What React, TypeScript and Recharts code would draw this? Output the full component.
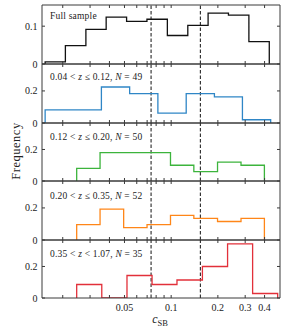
import React from 'react';
import { LineChart, Line, XAxis, YAxis, ReferenceLine } from 'recharts';

// bin edges (c_SB) and normalised counts for each redshift slice
const fullEdges = [0.0154, 0.0208, 0.0282, 0.0381, 0.0516, 0.0698, 0.0945, 0.128, 0.173, 0.234, 0.317, 0.429];
const fullFreq = [0.0054, 0.0484, 0.0914, 0.1237, 0.1129, 0.1183, 0.0753, 0.1022, 0.1344, 0.129, 0.0591];

const z1Edges = [0.0154, 0.0234, 0.0355, 0.054, 0.0821, 0.125, 0.19, 0.288, 0.438];
const z1Freq = [0.0816, 0.0816, 0.2245, 0.1837, 0.0612, 0.1837, 0.1633, 0.0204];

const z2Edges = [0.0246, 0.0348, 0.0494, 0.0699, 0.099, 0.14, 0.199, 0.282, 0.399];
const z2Freq = [0.08, 0.18, 0.18, 0.18, 0.1, 0.06, 0.12, 0.1];

const z3Edges = [0.0246, 0.0348, 0.0494, 0.0699, 0.099, 0.14, 0.199, 0.282, 0.399];
const z3Freq = [0.0962, 0.1923, 0.0769, 0.0962, 0.1538, 0.1346, 0.1154, 0.1346];

const z4Edges = [0.0246, 0.0357, 0.0519, 0.0753, 0.109, 0.159, 0.231, 0.335, 0.486];
const z4Freq = [0.0857, 0, 0.1429, 0.0857, 0.1143, 0.2, 0.3429, 0.0286];

const cutLines = [0.0742, 0.1542];
const xTicks = [0.02, 0.03, 0.04, 0.05, 0.06, 0.07, 0.08, 0.09, 0.1, 0.2, 0.3, 0.4];
const xLabelled = [0.05, 0.1, 0.2, 0.3, 0.4];
const xDomain = [0.0147, 0.503];

const FONT = "'Liberation Serif', 'Times New Roman', serif";
const AXIS = '#3a3a3a';
const TEXT = '#222';

type Pt = { x: number; y: number };

function toSteps(edges: number[], freq: number[]): Pt[] {
  const pts: Pt[] = [{ x: edges[0], y: 0 }];
  freq.forEach((f, i) => pts.push({ x: edges[i], y: f }));
  pts.push({ x: edges[edges.length - 1], y: freq[freq.length - 1] });
  pts.push({ x: edges[edges.length - 1], y: 0 });
  return pts;
}

function HistPanel({
  edges,
  freq,
  color,
  yMax,
  yTicks,
  top,
  plotH,
  last,
}: {
  edges: number[];
  freq: number[];
  color: string;
  yMax: number;
  yTicks: number[];
  top: number;
  plotH: number;
  last?: boolean;
}) {
  const pad = 8;
  const bottomH = last ? 30 : 1;
  const fmtX = (v: number) => (last && xLabelled.includes(v) ? String(v) : '');
  return (
    <div style={{ position: 'absolute', left: 0, top: top - pad - 1 }}>
      <LineChart
        width={293}
        height={pad + 1 + plotH + bottomH + pad}
        data={toSteps(edges, freq)}
        margin={{ top: pad, right: 12, bottom: pad, left: 0 }}
      >
        <XAxis
          xAxisId="b"
          dataKey="x"
          type="number"
          scale="log"
          domain={xDomain}
          allowDataOverflow
          ticks={xTicks}
          interval={0}
          tickFormatter={fmtX}
          tickSize={-3}
          tickMargin={9}
          height={bottomH}
          stroke={AXIS}
          tick={{ fontSize: 10, fill: TEXT, fontFamily: FONT }}
        />
        <XAxis
          xAxisId="t"
          orientation="top"
          dataKey="x"
          type="number"
          scale="log"
          domain={xDomain}
          allowDataOverflow
          ticks={xTicks}
          interval={0}
          tickFormatter={() => ''}
          tickSize={-3}
          height={1}
          stroke={AXIS}
        />
        <YAxis
          yAxisId="l"
          type="number"
          domain={[0, yMax]}
          allowDataOverflow
          ticks={yTicks}
          interval={0}
          tickSize={-3}
          tickMargin={7.5}
          width={42}
          stroke={AXIS}
          tick={{ fontSize: 10, fill: TEXT, fontFamily: FONT }}
        />
        <YAxis
          yAxisId="r"
          orientation="right"
          type="number"
          domain={[0, yMax]}
          allowDataOverflow
          ticks={yTicks}
          interval={0}
          tickFormatter={() => ''}
          tickSize={-3}
          width={1}
          stroke={AXIS}
        />
        {cutLines.map((c) => (
          <ReferenceLine
            key={c}
            xAxisId="b"
            yAxisId="l"
            x={c}
            stroke="#111"
            strokeWidth={1}
            strokeDasharray="3.5 2"
          />
        ))}
        <Line
          xAxisId="b"
          yAxisId="l"
          type="stepAfter"
          dataKey="y"
          stroke={color}
          strokeWidth={1.3}
          dot={false}
          activeDot={false}
          isAnimationActive={false}
        />
      </LineChart>
    </div>
  );
}

const labelStyle = { fontFamily: FONT, fontSize: 9.5, fill: TEXT, letterSpacing: 0.2 } as const;

function SliceLabel({ y, lo, hi, n, strict }: { y: number; lo: string; hi: string; n: number; strict?: boolean }) {
  return (
    <text x={50} y={y} style={labelStyle}>
      {lo} &lt; <tspan fontStyle="italic">z</tspan> {strict ? '<' : '≤'} {hi},{' '}
      <tspan fontStyle="italic">N</tspan> = {n}
    </text>
  );
}

export default function App() {
  return (
    <div style={{ position: 'absolute', left: 0, top: 0, width: 293, height: 335, background: '#fff' }}>
      <HistPanel edges={fullEdges} freq={fullFreq} color="#111" yMax={0.156} yTicks={[0, 0.1]} top={5} plotH={59} />
      <HistPanel edges={z1Edges} freq={z1Freq} color="#2f86c6" yMax={0.368} yTicks={[0, 0.2]} top={64} plotH={59} />
      <HistPanel edges={z2Edges} freq={z2Freq} color="#3cb43c" yMax={0.368} yTicks={[0, 0.2]} top={123} plotH={58} />
      <HistPanel edges={z3Edges} freq={z3Freq} color="#ff8618" yMax={0.368} yTicks={[0, 0.2]} top={181} plotH={59} />
      <HistPanel edges={z4Edges} freq={z4Freq} color="#e2303a" yMax={0.368} yTicks={[0, 0.2]} top={240} plotH={58} last />
      <svg
        width={293}
        height={335}
        style={{ position: 'absolute', left: 0, top: 0, pointerEvents: 'none' }}
      >
        <text x={50} y={19} style={labelStyle}>Full sample</text>
        <SliceLabel y={80} lo="0.04" hi="0.12" n={49} />
        <SliceLabel y={139.5} lo="0.12" hi="0.20" n={50} />
        <SliceLabel y={198.5} lo="0.20" hi="0.35" n={52} />
        <SliceLabel y={256.5} lo="0.35" hi="1.07" n={35} strict />
        <text
          transform="translate(20,151) rotate(-90)"
          textAnchor="middle"
          style={{ fontFamily: FONT, fontSize: 12.5, fill: TEXT, letterSpacing: 0.5 }}
        >
          Frequency
        </text>
        <text x={160} y={323} textAnchor="middle" style={{ fontFamily: FONT, fontSize: 12, fill: TEXT }}>
          <tspan fontStyle="italic">c</tspan>
          <tspan fontSize={8.5} dy={2.5}>SB</tspan>
        </text>
      </svg>
    </div>
  );
}
